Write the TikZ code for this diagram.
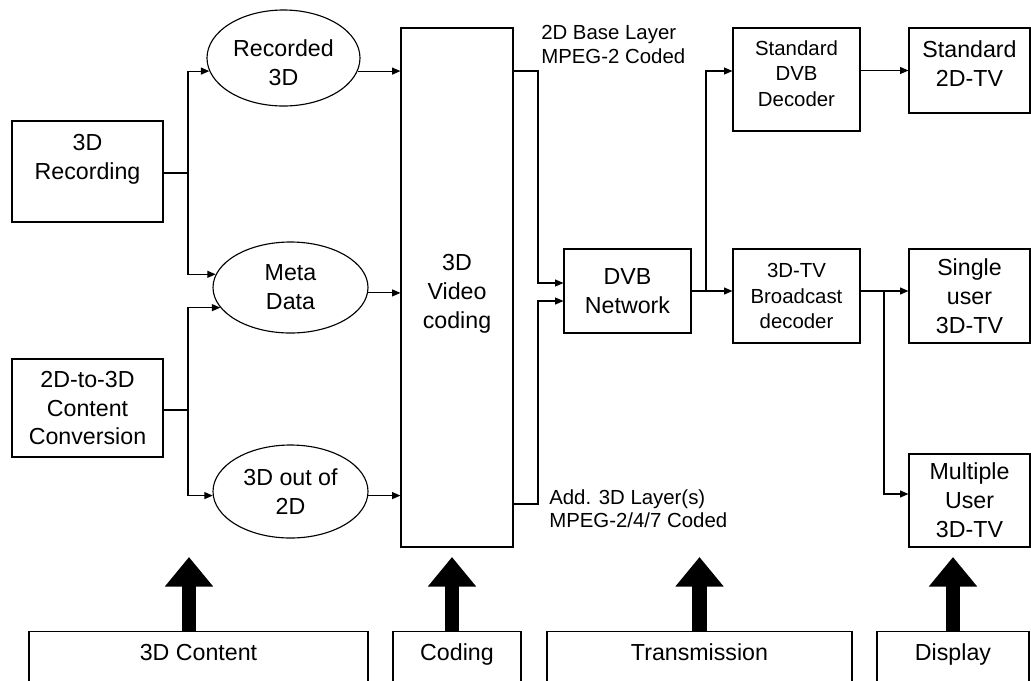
\documentclass[tikz,border=0pt]{standalone}
\usepackage{fontspec}
\setmainfont{Liberation Sans}
\usetikzlibrary{shapes.geometric,arrows.meta}

\tikzset{
  sz/.style 2 args={minimum width=#1*0.025cm, minimum height=#2*0.025cm},
  box/.style={draw, line width=0.8pt, inner sep=0pt, align=center, font=\fontsize{16.5}{20.5}\selectfont},
  smallbox/.style={box, font=\fontsize{14.5}{18}\selectfont},
  oval/.style={box, ellipse},
  stage/.style={draw, line width=0.8pt, anchor=north, inner xsep=0pt, inner ysep=8.7pt, text height=11.8pt, text depth=40pt, font=\fontsize{16.5}{20.5}\selectfont},
  lbl/.style={anchor=north west, inner sep=0pt, align=left, font=\fontsize{14.5}{17}\selectfont},
  wire/.style={line width=0.8pt},
  arr/.style={wire, -{Triangle[length=6pt,width=5pt]}},
  fat/.style={line width=10.6pt, -{Triangle[length=21pt,width=33pt]}},
}

\begin{document}
\begin{tikzpicture}[x=0.025cm, y=-0.025cm]
	\useasboundingbox (0,0) rectangle (1031,680);
	\clip (0,0) rectangle (1031,680);

	% content
	\node[box, sz={151}{101}] (rec) at (87.5,171.5) {3D\\Recording\\ \mbox{}};
	\node[box, sz={151}{98}] (conv) at (87.5,408) {2D-to-3D\\Content\\Conversion};
	\node[oval, sz={153}{96}] (recd) at (283.5,58) {\mbox{}\\[-1.7pt]Recorded\\3D};
	\node[oval, sz={155}{91}] (meta) at (290.5,287.5) {Meta\\Data};
	\node[oval, sz={155}{93}] (outof) at (290.5,491.5) {3D out of\\2D};

	% coding and transmission
	\node[box, sz={112}{519}] (vcod) at (457,287.5) {\mbox{}\\3D\\Video\\coding};
	\node[box, sz={127}{84}] (dvb) at (627.5,291) {DVB\\Network};
	\node[lbl] (base) at (541,25) {2D Base Layer\\MPEG-2 Coded};
	\node[lbl] (add) at (549,489) {Add. 3D Layer(s)\\MPEG-2/4/7 Coded};

	% decoders and displays
	\node[smallbox, sz={127}{103}] (stddec) at (796.5,79.5) {Standard\\DVB\\Decoder\\[-9.5pt]\mbox{}};
	\node[smallbox, sz={127}{94}] (bcdec) at (796.5,296) {3D-TV\\Broadcast\\decoder};
	\node[box, sz={121}{85}] (std2d) at (969.5,70.5) {Standard\\2D-TV\\[-10.5pt]\mbox{}};
	\node[box, sz={121}{94}] (single) at (969.5,296) {Single\\user\\3D-TV};
	\node[box, sz={121}{93}] (multi) at (969.5,500.5) {Multiple\\User\\3D-TV};

	% stages
	\node[stage, sz={339}{0}] (content) at (198.5,631) {3D Content};
	\node[stage, sz={128}{0}] (coding) at (457,631) {Coding};
	\node[stage, sz={305}{0}] (trans) at (699.5,631) {Transmission};
	\node[stage, sz={152}{0}] (disp) at (953,631) {Display};

	\coordinate (j1) at (188,173);
	\coordinate (j2) at (188,410);
	\coordinate (ja) at (538,71);
	\coordinate (jb) at (538,504);
	\coordinate (jc) at (706,291);
	\coordinate (jd) at (884,291);

	\draw[wire] (rec.east |- j1) -- (j1);
	\draw[arr] (j1) |- (recd.190);
	\draw[arr] (j1) |- (meta.170);
	\draw[wire] (conv.east |- j2) -- (j2);
	\draw[arr] (j2) |- (meta.196);
	\draw[arr] (j2) |- (outof.183);

	\draw[arr] (recd.350) -- (recd.350 -| vcod.west);
	\draw[arr] (meta.356) -- (meta.356 -| vcod.west);
	\draw[arr] (outof.357) -- (outof.357 -| vcod.west);

	\draw[arr] (vcod.east |- ja) -- (ja) |- ([yshift=0.2cm]dvb.west);
	\draw[arr] (vcod.east |- jb) -- (jb) |- ([yshift=-0.25cm]dvb.west);

	\draw[arr] (dvb.east) -- (dvb.east -| bcdec.west);
	\draw[arr] (jc) |- ([yshift=0.2125cm]stddec.west);
	\draw[arr] (stddec.east |- std2d.west) -- (std2d.west);

	\draw[arr] (bcdec.east |- jd) -- (single.west |- jd);
	\draw[arr] (jd) |- ([yshift=0.1625cm]multi.west);

	\draw[fat] ([xshift=-0.2375cm]content.north) -- ++(0,-74);
	\draw[fat] ([xshift=-0.125cm]coding.north) -- ++(0,-74);
	\draw[fat] (trans.north) -- ++(0,-74);
	\draw[fat] (disp.north) -- ++(0,-74);
\end{tikzpicture}
\end{document}
